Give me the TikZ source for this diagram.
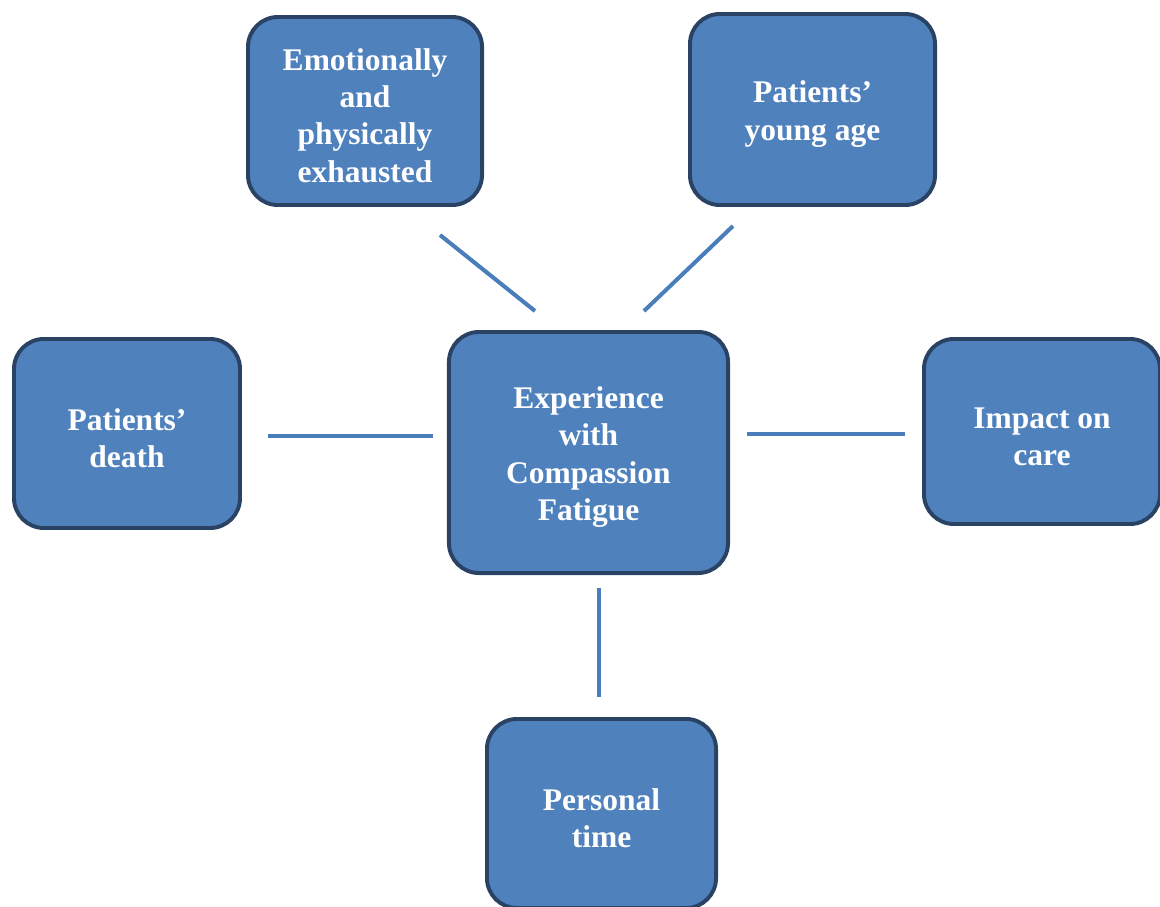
\documentclass[tikz,border=0pt]{standalone}
\usepackage{fontspec}
\setmainfont{Liberation Serif}
\usepackage{tikz}
\usetikzlibrary{positioning}
\definecolor{boxfill}{HTML}{4F81BD}
\definecolor{boxline}{HTML}{2A4365}
\definecolor{linkcol}{HTML}{4A7EBB}
\newcommand{\tgap}{\rule{0pt}{22pt}}

\begin{document}
\begin{tikzpicture}[
                x=0.025cm, y=-0.025cm,
                theme/.style={draw=boxline, line width=2.8pt, fill=boxfill,
                              rounded corners=0.75cm, text=white, align=center,
                              inner sep=0pt,
                              font=\fontsize{22.4}{26.5}\selectfont\bfseries},
                link/.style={draw=linkcol, line width=2.85pt}
            ]
            \useasboundingbox (0,0) rectangle (1160,907);
            \node[theme, minimum width=6.975cm, minimum height=6.025cm] (cf) at (588.5,452.5)
                {\tgap Experience\\with\\Compassion\\Fatigue};
            \node[theme, minimum width=5.85cm, minimum height=4.7cm] (exh) at (365,111)
                {\tgap Emotionally\\and\\physically\\exhausted};
            \node[theme, minimum width=6.125cm, minimum height=4.775cm] (age) at (812.5,109.5)
                {\tgap Patients'\\young age};
            \node[theme, minimum width=5.65cm, minimum height=4.725cm] (death) at (127,433.5)
                {\tgap Patients'\\death};
            \node[theme, minimum width=5.9cm, minimum height=4.625cm] (care) at (1042,431.5)
                {\tgap Impact on\\care};
            \node[theme, minimum width=5.725cm, minimum height=4.725cm] (time) at (601.5,813.5)
                {\tgap Personal\\time};
            % free-standing spokes
            \coordinate (exh-a) at (440,235);   \coordinate (exh-b) at (535,311);
            \coordinate (age-a) at (733,226);   \coordinate (age-b) at (644,311);
            \coordinate (death-a) at (268,436); \coordinate (death-b) at (433,436);
            \coordinate (care-a) at (905,434);  \coordinate (care-b) at (747,434);
            \coordinate (time-a) at (599,697);  \coordinate (time-b) at (599,588);
            \draw[link] (exh-a) -- (exh-b);
            \draw[link] (age-a) -- (age-b);
            \draw[link] (death-a) -- (death-b);
            \draw[link] (care-a) -- (care-b);
            \draw[link] (time-a) -- (time-b);
            \end{tikzpicture}
\end{document}
